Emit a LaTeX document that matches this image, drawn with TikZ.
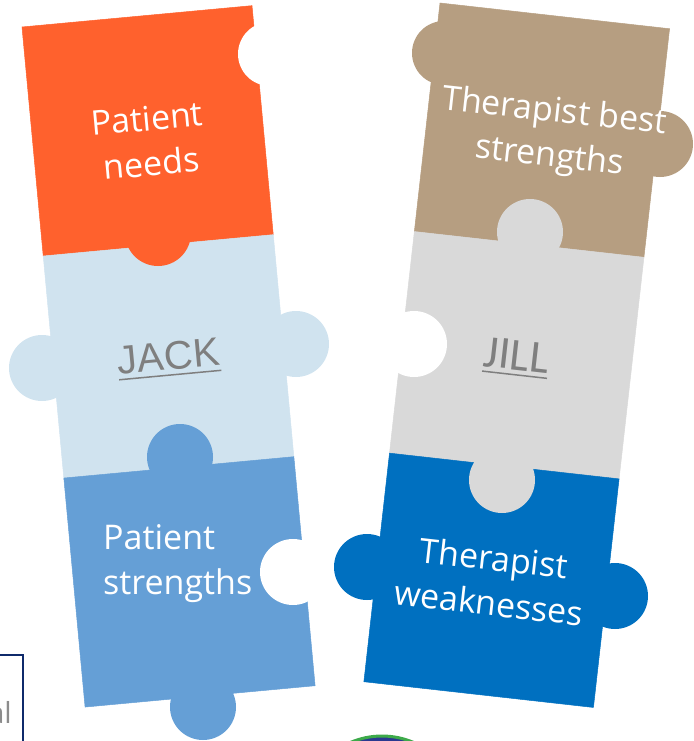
\documentclass[tikz,border=0pt]{standalone}
\usepackage{fontspec}
\setmainfont{Open Sans}
\newfontfamily\jackfont{Liberation Sans}
\newfontfamily\jillfont{Carlito}
\usetikzlibrary{positioning,calc}
\definecolor{needsorange}{HTML}{FF612D}
\definecolor{jackblue}{HTML}{D0E3EF}
\definecolor{strengthblue}{HTML}{659FD6}
\definecolor{besttan}{HTML}{B69E81}
\definecolor{jillgray}{HTML}{D9D9D9}
\definecolor{weakblue}{HTML}{0070C0}
\definecolor{namegray}{HTML}{7F7F7F}
\definecolor{boxnavy}{HTML}{0F2A6B}
\definecolor{logogreen}{HTML}{3DAA4A}
\definecolor{logonavy}{HTML}{2A3990}
\tikzstyle{piece} = [rectangle, inner sep=0pt, outer sep=0pt, minimum width=231pt, line width=0.5pt]
\tikzstyle{piecetext} = [text=white, align=center, inner sep=0pt, font=\fontsize{34}{45}\selectfont]
\tikzstyle{nametext} = [text=namegray, inner sep=0pt]
\tikzstyle{uline} = [draw=namegray, line width=1.5pt]

\begin{document}
\begin{tikzpicture}[x=1pt, y=-1pt]
  \useasboundingbox (0,0) rectangle (693,741);
  \clip (0,0) rectangle (693,741);

  % left column
  \node [piece, fill=needsorange, draw=needsorange, minimum height=230pt, rotate=5.3, anchor=north west] (needs) at (22,27) {};
  \node [piece, fill=jackblue, draw=jackblue, minimum height=223pt, rotate=5.3, below=0pt of needs] (jack) {};
  \node [piece, fill=strengthblue, draw=strengthblue, minimum height=230pt, rotate=5.3, below=0pt of jack] (pstrengths) {};

  % right column
  \node [piece, fill=besttan, draw=besttan, minimum height=230pt, rotate=-6.4, anchor=north west] (best) at (440,3) {};
  \node [piece, fill=jillgray, draw=jillgray, minimum height=223pt, rotate=-6.4, below=0pt of best] (jill) {};
  \node [piece, fill=weakblue, draw=weakblue, minimum height=230pt, rotate=-6.4, below=0pt of jill] (weak) {};

  % knobs
  \fill [needsorange] (158,233) circle (33pt);
  \fill [jackblue] (42,368) circle (33pt);
  \fill [jackblue] (296,344) circle (33pt);
  \fill [strengthblue] (180,457) circle (33pt);
  \fill [strengthblue] (203,707) circle (33pt);
  \fill [besttan] (444,53) circle (32pt);
  \fill [besttan] (660,144) circle (33pt);
  \fill [jillgray] (530,232) circle (33pt);
  \fill [jillgray] (502,480) circle (33pt);
  \fill [weakblue] (367,567) circle (33pt);
  \fill [weakblue] (615,596) circle (33pt);

  % holes
  \fill [white] (270,54) circle (32pt);
  \fill [white] (293,572) circle (33pt);
  \fill [white] (414,344) circle (33pt);

  % texts
  \node [piecetext, rotate=5.3] (needstext) at ($(needs.center)+(1.5,10)$) {Patient\\needs};
  \node [piecetext, align=left, anchor=west] (pstrengthstext) at (103,564) {Patient\\strengths};
  \node [piecetext, rotate=-6.4] (besttext) at ($(best.center)+(10,5)$) {Therapist best\\strengths};
  \node [piecetext, rotate=-6.4] (weaktext) at (weak.center) {Therapist\\weaknesses};

  \node [nametext, rotate=5.3, font=\jackfont\fontsize{40}{48}\selectfont] (jacktext) at (jack.center) {JACK};
  \node [nametext, rotate=-6.4, font=\jillfont\fontsize{46}{55}\selectfont] (jilltext) at (jill.center) {JILL};
  \draw [uline] ($(jacktext.base west)!5pt!-90:(jacktext.base east)$) -- ($(jacktext.base east)!5pt!90:(jacktext.base west)$);
  \draw [uline] ($(jilltext.base west)!5pt!-90:(jilltext.base east)$) -- ($(jilltext.base east)!5pt!90:(jilltext.base west)$);

  % bits cut off at the edges
  \draw [boxnavy, line width=1.5pt] (-100,655) rectangle (23,800);
  \node [text=gray!90, anchor=base east, inner sep=0pt, font=\fontsize{29}{34}\selectfont] (altext) at (12,723) {al};
  \draw [draw=logogreen, fill=logonavy, line width=3pt] (382,816) circle (80pt);
\end{tikzpicture}
\end{document}
